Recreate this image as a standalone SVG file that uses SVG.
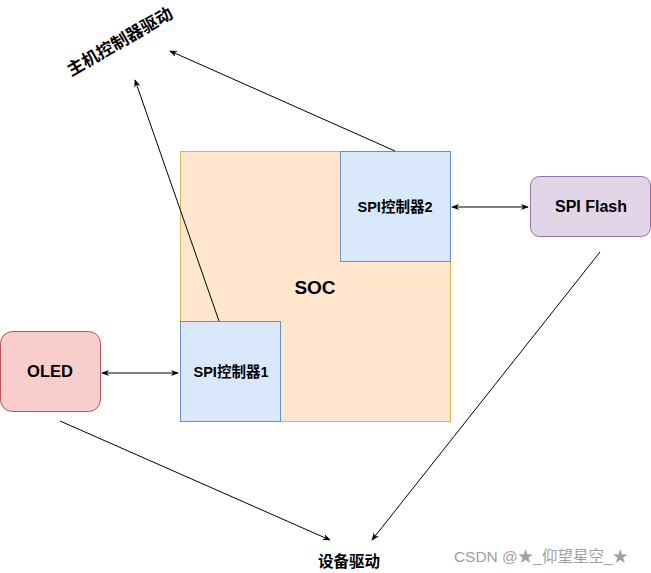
<svg xmlns="http://www.w3.org/2000/svg" width="651" height="573" viewBox="0 0 651 573">
<defs>
<marker id="ah" viewBox="0 0 10 10" refX="9" refY="5" markerWidth="8" markerHeight="8" orient="auto-start-reverse" markerUnits="userSpaceOnUse">
<path d="M0,1 L10,5 L0,9 L3,5 Z" fill="#000"/>
</marker>
<style>
.t{font-family:"Liberation Sans","Noto Sans CJK SC",sans-serif;font-weight:bold;fill:#000;text-anchor:middle;dominant-baseline:central}
.c{stroke:#000;stroke-width:1;fill:none}
</style>
</defs>
<rect width="651" height="573" fill="#fff"/>
<g id="soc">
<rect x="180.5" y="151.5" width="270" height="270" fill="#ffe6cc" stroke="#d6b656"/>
<text class="t" x="315" y="287" font-size="19">SOC</text>
</g>
<g id="spi2">
<rect x="340.5" y="151.5" width="110" height="110" fill="#dae8fc" stroke="#6c8ebf"/>
<text class="t" x="395" y="207" font-size="14.5">SPI控制器2</text>
</g>
<g id="spi1">
<rect x="180.5" y="321.5" width="100" height="100" fill="#dae8fc" stroke="#6c8ebf"/>
<text class="t" x="231" y="372" font-size="14.5">SPI控制器1</text>
</g>
<g id="oled">
<rect x="0.5" y="331.5" width="100" height="80" rx="12" fill="#f8cecc" stroke="#b85450"/>
<text class="t" x="50" y="371" font-size="16.5">OLED</text>
</g>
<g id="flash">
<rect x="530.5" y="176.5" width="120" height="60" rx="9" fill="#e1d5e7" stroke="#9673a6"/>
<text class="t" x="591" y="206" font-size="16">SPI Flash</text>
</g>
<g id="host">
<text class="t" x="120" y="42" font-size="17" transform="rotate(-30 120 42)">主机控制器驱动</text>
</g>
<g id="dev">
<text class="t" x="349" y="561" font-size="15.5">设备驱动</text>
</g>
<g id="connectors">
<line class="c" x1="102" y1="373" x2="178" y2="373" marker-start="url(#ah)" marker-end="url(#ah)"/>
<line class="c" x1="452" y1="207" x2="528" y2="207" marker-start="url(#ah)" marker-end="url(#ah)"/>
<line class="c" x1="219" y1="321" x2="135" y2="80" marker-end="url(#ah)"/>
<line class="c" x1="395" y1="151" x2="170" y2="51" marker-end="url(#ah)"/>
<line class="c" x1="60" y1="421" x2="330" y2="540" marker-end="url(#ah)"/>
<line class="c" x1="600" y1="252" x2="372" y2="540" marker-end="url(#ah)"/>
</g>
<text x="541" y="556" font-family="Liberation Sans,Noto Sans CJK SC,sans-serif" font-size="15.5" fill="#a0a0a0" text-anchor="middle" dominant-baseline="central">CSDN @★_仰望星空_★</text>
</svg>
